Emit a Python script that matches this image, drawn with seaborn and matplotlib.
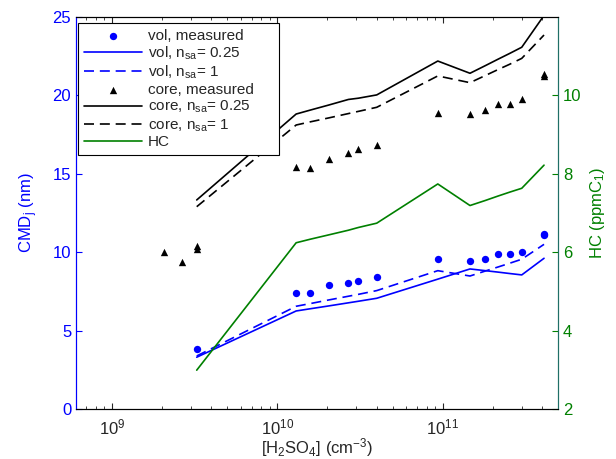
import matplotlib
matplotlib.use('Agg')
import matplotlib.pyplot as plt
import seaborn as sns

# H2SO4 concentrations (cm^-3)
conc_core = [2.08e9, 2.65e9, 3.26e9, 3.26e9, 1.30e10, 1.58e10, 2.04e10, 2.69e10, 3.09e10,
             3.99e10, 9.33e10, 1.46e11, 1.81e11, 2.15e11, 2.53e11, 3.00e11, 4.09e11, 4.09e11]
core_meas = [10.0, 9.39, 10.41, 10.19, 15.45, 15.37, 15.94, 16.31, 16.60,
             16.82, 18.86, 18.79, 19.07, 19.43, 19.45, 19.75, 21.36, 21.24]

conc_vol = [3.26e9, 1.30e10, 1.58e10, 2.04e10, 2.69e10, 3.09e10, 3.99e10,
            9.33e10, 1.46e11, 1.81e11, 2.15e11, 2.53e11, 3.00e11, 4.09e11, 4.09e11]
vol_meas = [3.85, 7.38, 7.38, 7.89, 8.04, 8.16, 8.44,
            9.55, 9.44, 9.55, 9.87, 9.87, 9.99, 11.16, 11.10]

conc_model = [3.26e9, 1.30e10, 1.58e10, 2.04e10, 2.69e10, 3.09e10, 3.99e10,
              9.33e10, 1.46e11, 1.81e11, 2.15e11, 2.53e11, 3.00e11, 4.09e11]
vol_025 = [3.30, 6.25, 6.39, 6.57, 6.77, 6.87, 7.06, 8.28, 8.93, 8.82, 8.73, 8.64, 8.55, 9.61]
vol_1 = [3.38, 6.55, 6.72, 6.95, 7.19, 7.31, 7.55, 8.82, 8.48, 8.80, 9.05, 9.29, 9.55, 10.50]
core_025 = [13.33, 18.81, 19.06, 19.38, 19.74, 19.82, 20.03, 22.19, 21.41, 21.90, 22.30, 22.67, 23.07, 25.1]
core_1 = [12.90, 18.11, 18.31, 18.56, 18.84, 18.98, 19.24, 21.24, 20.81, 21.27, 21.64, 21.98, 22.36, 23.85]
hc = [2.99, 6.24, 6.33, 6.44, 6.56, 6.63, 6.74, 7.74, 7.19, 7.32, 7.43, 7.53, 7.63, 8.22]

sns.set_style('ticks')
plt.rcParams['font.family'] = ['Liberation Sans', 'DejaVu Sans']
plt.rcParams['mathtext.fontset'] = 'custom'
plt.rcParams['mathtext.rm'] = 'Liberation Sans'
plt.rcParams['mathtext.it'] = 'Liberation Sans'
plt.rcParams['xtick.direction'] = 'in'
plt.rcParams['ytick.direction'] = 'in'

blue = '#0000ff'
green = '#008000'
lw = 1.2
dash = (6, 3.5)

fig = plt.figure(figsize=(6.16, 4.59), dpi=100)
ax = fig.add_axes([0.1234, 0.109, 0.7825, 0.854])
ax2 = ax.twinx()

sns.scatterplot(x=conc_vol, y=vol_meas, ax=ax, color=blue, marker='o', s=28,
                linewidth=0, label='vol, measured', zorder=3)
sns.lineplot(x=conc_model, y=vol_025, ax=ax, color=blue, lw=lw, sort=False,
             estimator=None, label=r'vol, n$_{\mathrm{sa}}$= 0.25')
sns.lineplot(x=conc_model, y=vol_1, ax=ax, color=blue, lw=lw, sort=False,
             estimator=None, label=r'vol, n$_{\mathrm{sa}}$= 1')
ax.lines[-1].set_dashes(dash)
sns.scatterplot(x=conc_core, y=core_meas, ax=ax, color='black', marker='^', s=28,
                linewidth=0, label='core, measured', zorder=3)
sns.lineplot(x=conc_model, y=core_025, ax=ax, color='black', lw=lw, sort=False,
             estimator=None, label=r'core, n$_{\mathrm{sa}}$= 0.25')
sns.lineplot(x=conc_model, y=core_1, ax=ax, color='black', lw=lw, sort=False,
             estimator=None, label=r'core, n$_{\mathrm{sa}}$= 1')
ax.lines[-1].set_dashes(dash)
sns.lineplot(x=conc_model, y=hc, ax=ax2, color=green, lw=lw, sort=False,
             estimator=None, label='HC')

ax.set_xscale('log')
ax.set_xlim(6.08e8, 4.97e11)
ax.set_ylim(0, 25)
ax.set_yticks([0, 5, 10, 15, 20, 25])
ax2.set_ylim(2, 12)
ax2.set_yticks([2, 4, 6, 8, 10])

ax.set_xlabel(r'[H$_2$SO$_4$] (cm$^{-3}$)', fontsize=12, labelpad=-0.5)
ax.set_ylabel(r'CMD$_{\mathrm{j}}$ (nm)', fontsize=12, color=blue, labelpad=9)
ax2.set_ylabel(r'HC (ppmC$_1$)', fontsize=12, color=green, labelpad=5)

ax.tick_params(axis='x', which='both', top=True, labelsize=12, pad=6)
ax.tick_params(axis='x', which='major', length=4)
ax.tick_params(axis='x', which='minor', length=2)
ax.tick_params(axis='y', colors=blue, labelsize=12, length=4)
ax2.tick_params(axis='y', colors=green, labelsize=12, length=4)

for a in (ax, ax2):
    for s in a.spines.values():
        s.set_visible(True)
        s.set_linewidth(0.8)
    a.spines['top'].set_color('black')
    a.spines['bottom'].set_color('black')
    a.spines['left'].set_color(blue)
    a.spines['right'].set_color('#1f6f66')

h1, l1 = ax.get_legend_handles_labels()
h2, l2 = ax2.get_legend_handles_labels()
ax.get_legend().remove()
ax2.get_legend().remove()
leg = ax2.legend(h1 + h2, l1 + l2, loc='upper left',
                 bbox_to_anchor=(0.004, 0.3, 0.417, 0.6855), mode='expand',
                 borderaxespad=0, fontsize=11, handlelength=3.8, labelspacing=0.12,
                 handletextpad=0.37, borderpad=0.4, fancybox=False, framealpha=1,
                 edgecolor='black')
leg.get_frame().set_linewidth(0.8)

fig.savefig('out.png', dpi=100)
